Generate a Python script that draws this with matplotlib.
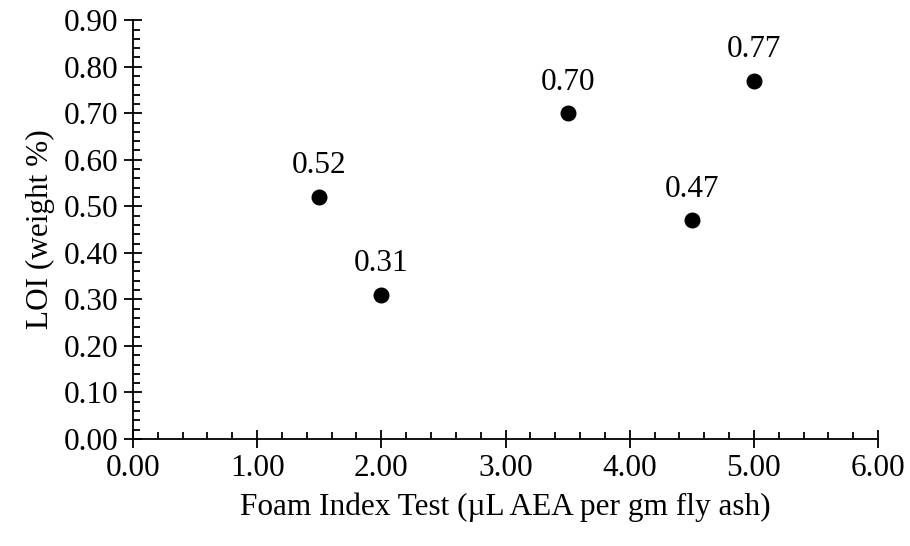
import matplotlib
matplotlib.use("Agg")
import matplotlib.pyplot as plt
from matplotlib.ticker import MultipleLocator, FormatStrFormatter

foam_index = [1.5, 2.0, 3.5, 4.5, 5.0]
loi = [0.52, 0.31, 0.70, 0.47, 0.77]

plt.rcParams['font.family'] = ['Liberation Serif', 'DejaVu Serif']
plt.rcParams['font.size'] = 22.5

fig = plt.figure(figsize=(9.1, 5.46), dpi=100)
ax = fig.add_axes([0.146, 0.196, 0.819, 0.767])

ax.plot(foam_index, loi, 'o', color='black', markersize=10.5, clip_on=False)
for x, y in zip(foam_index, loi):
    ax.annotate("%.2f" % y, (x, y), xytext=(0, 17), textcoords='offset points',
                ha='center', va='baseline')

ax.set_xlim(0, 6)
ax.set_ylim(0, 0.9)
ax.xaxis.set_major_locator(MultipleLocator(1))
ax.xaxis.set_minor_locator(MultipleLocator(0.2))
ax.yaxis.set_major_locator(MultipleLocator(0.1))
ax.yaxis.set_minor_locator(MultipleLocator(0.02))
ax.xaxis.set_major_formatter(FormatStrFormatter('%.2f'))
ax.yaxis.set_major_formatter(FormatStrFormatter('%.2f'))

for s in ['top', 'right']:
    ax.spines[s].set_visible(False)
for s in ['left', 'bottom']:
    ax.spines[s].set_linewidth(1.3)

ax.tick_params(which='major', direction='inout', length=13, width=1.3, pad=4)
ax.tick_params(which='minor', direction='in', length=5, width=1.3)

ax.set_xlabel("Foam Index Test (\u00b5L AEA per gm fly ash)", labelpad=7)
ax.set_ylabel("LOI (weight %)", labelpad=6)

fig.savefig("out.png", dpi=100)
